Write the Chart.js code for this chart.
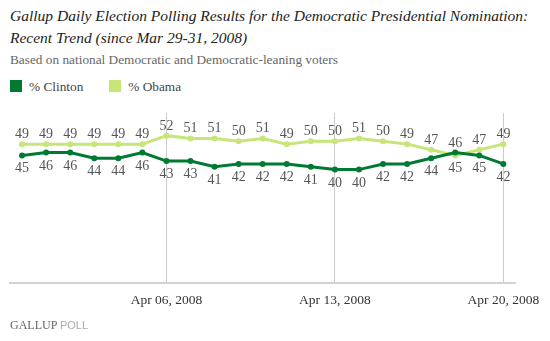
<!DOCTYPE html>
<html>
<head>
<meta charset="utf-8">
<script src="https://cdn.jsdelivr.net/npm/chart.js@4"></script>
<style>
  html, body { margin: 0; padding: 0; background: #fff; }
  #wrap { position: relative; width: 550px; height: 341px; overflow: hidden; font-family: "Liberation Serif", serif; }
  #title { position: absolute; left: 10px; top: 5px; font-style: italic; font-size: 15.5px; line-height: 22px; color: #222; white-space: nowrap; }
  #sub { position: absolute; left: 10px; top: 52px; font-size: 13.3px; color: #666; white-space: nowrap; }
  #legend { position: absolute; left: 10px; top: 79px; font-size: 13.3px; color: #444; white-space: nowrap; }
  #legend span.item { display: inline-block; margin-right: 26px; }
  #legend span.box { display: inline-block; width: 12px; height: 12px; vertical-align: -1px; margin-right: 7px; }
  #chartBox { position: absolute; left: 0; top: 100px; width: 550px; height: 241px; }
  #foot { position: absolute; left: 10px; top: 318px; font-size: 12px; white-space: nowrap; }
  #foot .g { color: #666; font-family: "Liberation Serif", serif; }
  #foot .p { color: #aaa; font-family: "Liberation Sans", sans-serif; font-size: 11px; }
</style>
</head>
<body>
<div id="wrap">
  <div id="title">Gallup Daily Election Polling Results for the Democratic Presidential Nomination:<br>Recent Trend (since Mar 29-31, 2008)</div>
  <div id="sub">Based on national Democratic and Democratic-leaning voters</div>
  <div id="legend"></div>
  <div id="chartBox"><canvas id="trendChart"></canvas></div>
  <div id="foot"><span class="g">GALLUP</span> <span class="p">POLL</span></div>
</div>
<script>
// daily rolling averages, Mar 31 .. Apr 20, 2008
const labels = ["Mar 31, 2008","Apr 01, 2008","Apr 02, 2008","Apr 03, 2008","Apr 04, 2008","Apr 05, 2008",
  "Apr 06, 2008","Apr 07, 2008","Apr 08, 2008","Apr 09, 2008","Apr 10, 2008","Apr 11, 2008","Apr 12, 2008",
  "Apr 13, 2008","Apr 14, 2008","Apr 15, 2008","Apr 16, 2008","Apr 17, 2008","Apr 18, 2008","Apr 19, 2008","Apr 20, 2008"];
const clinton = [45,46,46,44,44,46,43,43,41,42,42,42,41,40,40,42,42,44,46,45,42];
const obama   = [49,49,49,49,49,49,52,51,51,50,51,49,50,50,51,50,49,47,45,47,49];
const tickLabels = ["Apr 06, 2008","Apr 13, 2008","Apr 20, 2008"];

const datasets = [
  { label: "% Clinton", data: clinton, borderColor: "#007a33", backgroundColor: "#007a33" },
  { label: "% Obama",   data: obama,   borderColor: "#c6e67a", backgroundColor: "#c6e67a" }
];

// legend
const legendEl = document.getElementById("legend");
datasets.forEach(d => {
  legendEl.innerHTML += '<span class="item"><span class="box" style="background:' + d.backgroundColor + '"></span>' + d.label + '</span>';
});

// value labels: higher series above the point, lower one below
const valueLabels = {
  id: "valueLabels",
  afterDatasetsDraw(chart) {
    const ctx = chart.ctx;
    const metas = chart.data.datasets.map((d, i) => chart.getDatasetMeta(i));
    ctx.save();
    ctx.font = "14px 'Liberation Serif', serif";
    ctx.fillStyle = "#555";
    ctx.textAlign = "center";
    ctx.textBaseline = "alphabetic";
    labels.forEach((l, i) => {
      const top = obama[i] >= clinton[i] ? 1 : 0;
      metas.forEach((m, di) => {
        const pt = m.data[i];
        const v = chart.data.datasets[di].data[i];
        if (di === top) ctx.fillText(v, pt.x, pt.y - 6);
        else ctx.fillText(v, pt.x, pt.y + 17);
      });
    });
    ctx.restore();
  }
};

const chart = new Chart(document.getElementById("trendChart"), {
  type: "line",
  data: { labels, datasets },
  options: {
    responsive: true,
    maintainAspectRatio: false,
    animation: false,
    layout: { padding: { left: 10, right: 34, top: 13, bottom: 22 } },
    plugins: { legend: { display: false }, tooltip: { enabled: false } },
    elements: {
      line: { borderWidth: 3, tension: 0 },
      point: { radius: 3, borderWidth: 0 }
    },
    scales: {
      x: {
        offset: true,
        grid: {
          offset: false,
          drawTicks: false,
          color: c => tickLabels.includes(labels[c.index]) ? "#cccccc" : "rgba(0,0,0,0)",
          lineWidth: 1
        },
        border: { color: "#d4d4ce", width: 2 },
        ticks: {
          autoSkip: false,
          maxRotation: 0,
          padding: 10,
          color: "#333",
          font: { family: "'Liberation Serif', serif", size: 13.5 },
          callback: (v, i) => tickLabels.includes(labels[i]) ? labels[i] : ""
        }
      },
      y: { display: false, min: 0, max: 60 }
    }
  },
  plugins: [valueLabels]
});
</script>
</body>
</html>
